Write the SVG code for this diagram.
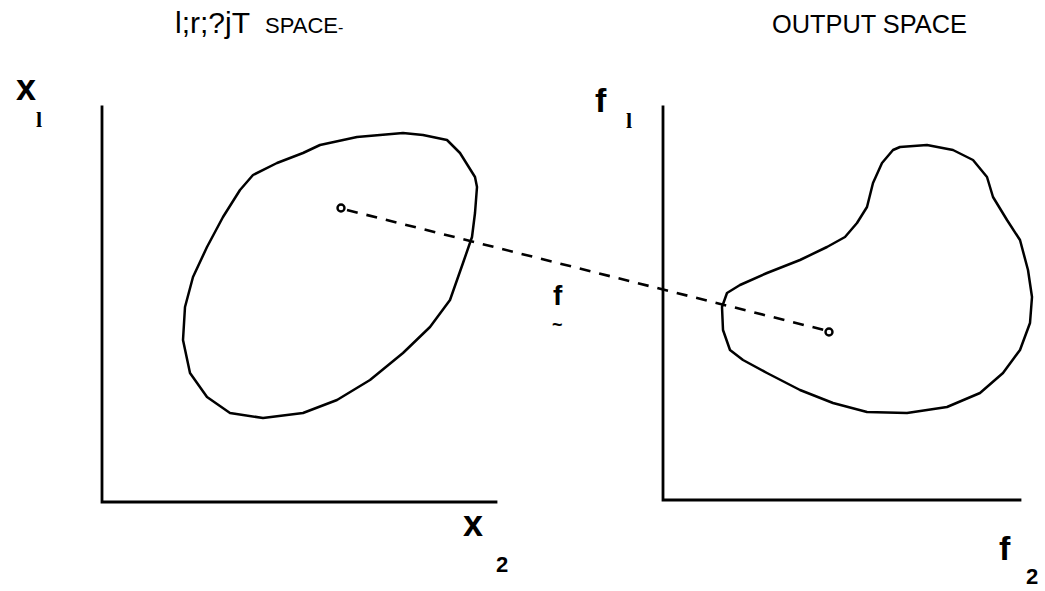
<svg xmlns="http://www.w3.org/2000/svg" width="1045" height="591" viewBox="0 0 1045 591">
<style>
.ax{fill:none;stroke:#000;stroke-width:2.8;stroke-linecap:square}
.blob{fill:none;stroke:#000;stroke-width:2.5;stroke-linejoin:round}
.lbl{font-family:"Liberation Sans",Arial,sans-serif;font-weight:bold;fill:#000}
.sub{font-family:"Liberation Serif","Times New Roman",serif;font-weight:bold;fill:#000}
.ttl{font-family:"Liberation Sans",Arial,sans-serif;fill:#000}
.dash{fill:none;stroke:#000;stroke-width:2.6;stroke-dasharray:11 9}
.pt{fill:#fff;stroke:#000;stroke-width:2.4}
</style>
<rect width="1045" height="591" fill="#fff"/>
<g id="input-title">
<text class="ttl" x="175" y="33" font-size="30">l;r;?jT</text>
<text class="ttl" x="265" y="33" font-size="22">SPACE<tspan font-size="16">-</tspan></text>
</g>
<g id="output-title">
<text class="ttl" x="772" y="33" font-size="26" textLength="195" lengthAdjust="spacingAndGlyphs" fill="#222">OUTPUT SPACE</text>
</g>
<g id="input-axes">
<path class="ax" d="M102,107 V502 H496"/>
<text class="lbl" x="16" y="100" font-size="36">x</text>
<text class="sub" x="36" y="127" font-size="22">l</text>
<text class="lbl" x="463" y="536" font-size="36">x</text>
<text class="lbl" x="496" y="572" font-size="22">2</text>
</g>
<g id="output-axes">
<path class="ax" d="M663,107 V500 H1020"/>
<text class="lbl" x="595" y="112" font-size="34">f</text>
<text class="sub" x="626" y="128" font-size="22">l</text>
<text class="lbl" x="999" y="560" font-size="34">f</text>
<text class="lbl" x="1026" y="584" font-size="22">2</text>
</g>
<g id="input-region">
<path class="blob" d="M253,175 L277,163 L303,153 L320,145 L357,137 L403,133 L423,135 L447,140 L460,153 L475,177 L477,187 L475,213 L472,237 L463,263 L450,300 L430,327 L403,353 L370,380 L337,400 L303,413 L263,418 L230,413 L207,397 L190,373 L183,340 L185,307 L193,277 L207,247 L223,217 L240,190 Z"/>
</g>
<g id="output-region">
<path class="blob" d="M900,147 L927,145 L953,150 L973,160 L987,177 L993,197 L1007,220 L1020,240 L1028,270 L1032,297 L1030,323 L1020,350 L1003,373 L980,393 L947,407 L907,413 L867,412 L833,403 L800,390 L767,373 L743,360 L730,350 L723,330 L722,307 L727,293 L740,285 L767,273 L800,260 L827,247 L845,237 L857,223 L867,207 L873,183 L882,163 L893,150 Z"/>
</g>
<g id="connectors">
<line class="dash" x1="347" y1="210" x2="824" y2="330"/>
<circle class="pt" cx="341" cy="208" r="3.5"/>
<circle class="pt" cx="829" cy="332" r="3.5"/>
</g>
<g id="mapping-label">
<text class="lbl" x="553" y="305" font-size="28">f</text>
<text class="lbl" x="552" y="331" font-size="18">~</text>
</g>
</svg>
